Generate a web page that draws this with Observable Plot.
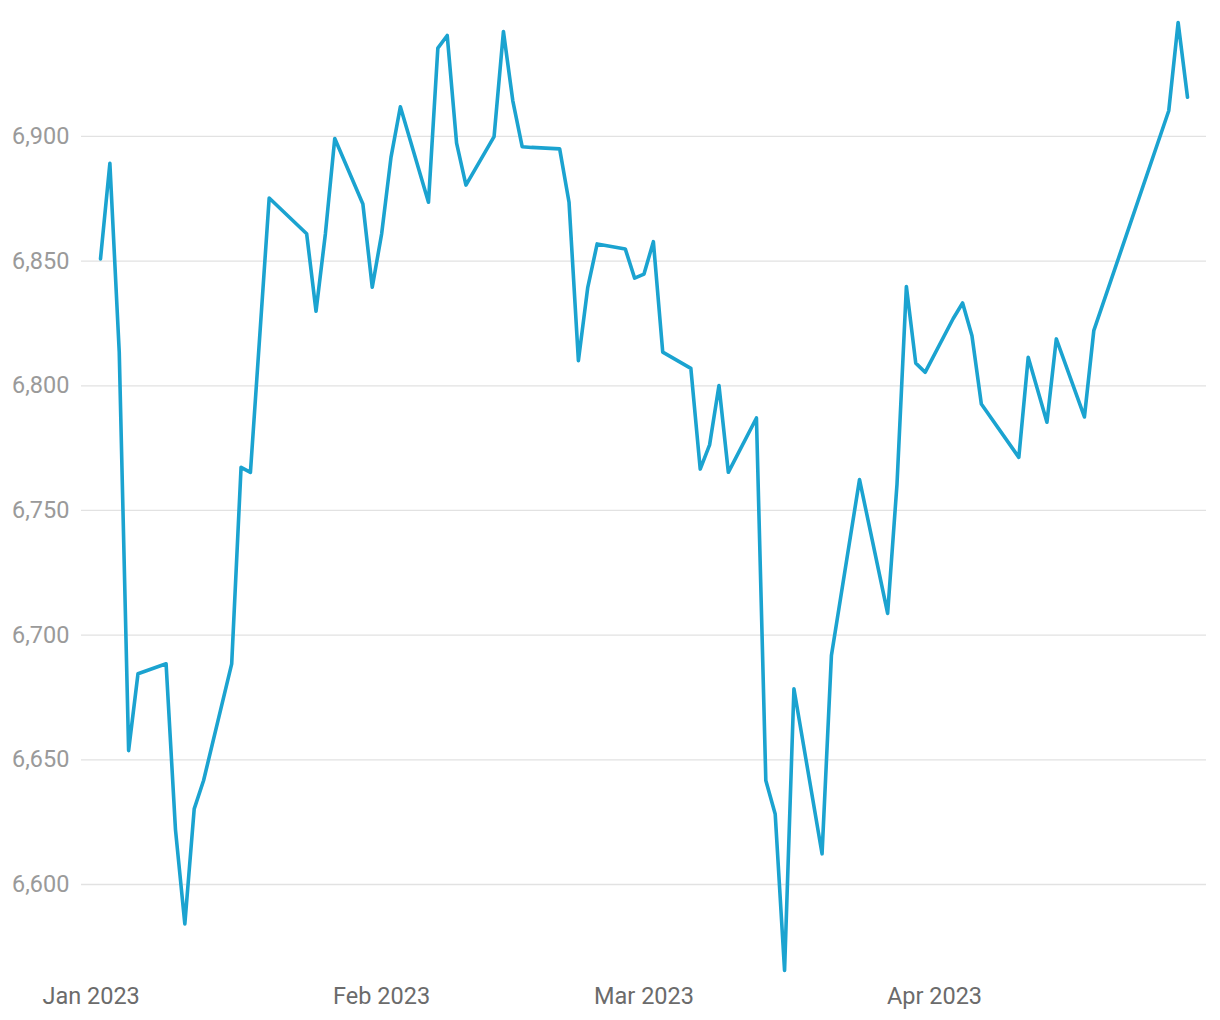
<!DOCTYPE html>
<html>
<head>
<meta charset="utf-8">
<script src="https://cdn.jsdelivr.net/npm/d3@7"></script>
<script src="https://cdn.jsdelivr.net/npm/@observablehq/plot@0.6"></script>
<style>
  html, body { margin: 0; padding: 0; background: #fff; }
  #chart svg { display: block; }
</style>
</head>
<body>
<div id="chart"></div>
<script>
const dates = [
  "2023-01-02","2023-01-03","2023-01-04","2023-01-05","2023-01-06",
  "2023-01-09","2023-01-10","2023-01-11","2023-01-12","2023-01-13",
  "2023-01-16","2023-01-17","2023-01-18","2023-01-20",
  "2023-01-24","2023-01-25","2023-01-26","2023-01-27",
  "2023-01-30","2023-01-31","2023-02-01","2023-02-02","2023-02-03",
  "2023-02-06","2023-02-07","2023-02-08","2023-02-09","2023-02-10",
  "2023-02-13","2023-02-14","2023-02-15","2023-02-16","2023-02-17",
  "2023-02-20","2023-02-21","2023-02-22","2023-02-23","2023-02-24",
  "2023-02-27","2023-02-28","2023-03-01","2023-03-02","2023-03-03",
  "2023-03-06","2023-03-07","2023-03-08","2023-03-09","2023-03-10",
  "2023-03-13","2023-03-14","2023-03-15","2023-03-16","2023-03-17",
  "2023-03-20","2023-03-21","2023-03-24",
  "2023-03-27","2023-03-28","2023-03-29","2023-03-30","2023-03-31",
  "2023-04-03","2023-04-04","2023-04-05","2023-04-06",
  "2023-04-10","2023-04-11","2023-04-13","2023-04-14",
  "2023-04-17","2023-04-18",
  "2023-04-26","2023-04-27","2023-04-28"
];
const values = [
  6850.9, 6889.2, 6813.5, 6653.7, 6684.5,
  6688.5, 6622.0, 6584.2, 6630.3, 6641.7,
  6688.5, 6767.3, 6765.3, 6875.3,
  6861.0, 6829.9, 6861.0, 6899.2,
  6872.9, 6839.5, 6860.9, 6891.6, 6911.9,
  6873.6, 6935.4, 6940.5, 6897.3, 6880.5,
  6899.9, 6942.1, 6914.3, 6895.9, 6895.6,
  6895.0, 6873.6, 6810.1, 6839.5, 6856.9,
  6854.9, 6843.2, 6844.8, 6857.8, 6813.5,
  6807.0, 6766.6, 6776.3, 6800.1, 6765.3,
  6787.1, 6641.7, 6628.3, 6565.5, 6678.5,
  6612.3, 6691.8, 6762.4,
  6708.7, 6760.6, 6839.8, 6809.1, 6805.4,
  6827.0, 6833.2, 6820.1, 6792.7,
  6771.3, 6811.4, 6785.4, 6818.8,
  6787.5, 6822.1,
  6910.3, 6945.7, 6915.7
];
const xTickDates = ["2023-01-01", "2023-02-01", "2023-03-01", "2023-04-01"];
const yTicks = [6600, 6650, 6700, 6750, 6800, 6850, 6900];

const data = dates.map((d, i) => ({date: new Date(d + "T00:00:00Z"), value: values[i]}));
const xTicks = xTickDates.map(d => new Date(d + "T00:00:00Z"));

const chart = Plot.plot({
  width: 1220,
  height: 1020,
  marginLeft: 81,
  marginRight: 14,
  marginTop: 22,
  marginBottom: 50,
  style: {fontFamily: "Roboto, sans-serif", background: "#fff"},
  x: {type: "utc", domain: d3.extent(data, d => d.date), insetLeft: 19, insetRight: 19, label: null},
  y: {domain: d3.extent(data, d => d.value), label: null},
  marks: [
    Plot.gridY(yTicks, {stroke: "#e2e2e2", strokeOpacity: 1, strokeWidth: 1.3}),
    Plot.axisY(yTicks, {
      tickSize: 0, tickPadding: 12, fontSize: 23.5, fill: "#9a9a9a",
      tickFormat: d3.format(","), label: null
    }),
    Plot.axisX(xTicks, {
      tickSize: 0, tickPadding: 17, fontSize: 23.5, fill: "#6b6b6b",
      tickFormat: d3.utcFormat("%b %Y"), label: null
    }),
    Plot.lineY(data, {x: "date", y: "value", stroke: "#1ba3d0", strokeWidth: 3.6})
  ]
});
document.getElementById("chart").append(chart);
</script>
</body>
</html>
